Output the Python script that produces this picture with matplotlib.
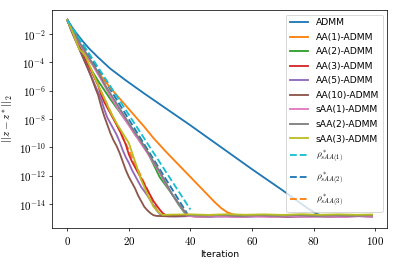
import numpy as np
import matplotlib
matplotlib.use("Agg")
import matplotlib.pyplot as plt
from matplotlib.ticker import FixedLocator, NullLocator, FuncFormatter

plt.rcParams["mathtext.fontset"] = "cm"

# values are log10 ||z - z*||_2
admm_it = [0, 1, 2, 3, 5, 7, 10, 14, 19, 25, 30, 40, 50, 60, 70, 78, 81, 83, 87, 91, 95, 99]
admm_log = [-1.0, -1.35, -1.65, -1.95, -2.5, -3.0, -3.65, -4.45, -5.27, -6.2, -6.95, -8.45,
            -10.0, -11.55, -13.05, -14.3, -14.7, -14.85, -14.8, -14.87, -14.82, -14.85]

aa1_it = [0, 2, 4, 6, 8, 10, 12, 14, 16, 19, 22, 25, 28, 32, 36, 40, 44, 48, 50, 52, 54,
          56, 60, 65, 70, 75, 80, 85, 90, 95, 99]
aa1_log = [-1.0, -2.0, -2.8, -3.5, -4.1, -4.7, -5.25, -5.8, -6.3, -7.05, -7.8, -8.55, -9.35,
           -10.3, -11.2, -12.1, -13.0, -13.9, -14.3, -14.6, -14.75, -14.8, -14.78, -14.84,
           -14.8, -14.86, -14.8, -14.83, -14.79, -14.85, -14.82]

aa2_it = [0, 2, 4, 6, 8, 10, 12, 14, 16, 18, 20, 22, 24, 26, 28, 30, 32, 34, 36, 38, 39,
          42, 46, 50, 55, 60, 65, 70, 75, 80, 85, 90, 95, 99]
aa2_log = [-1.0, -2.0, -2.9, -3.8, -4.6, -5.3, -5.95, -6.6, -7.2, -7.8, -8.4, -9.1, -9.6,
           -10.3, -11.2, -12.1, -12.7, -13.3, -14.0, -14.6, -14.8, -14.85, -14.8, -14.88,
           -14.82, -14.86, -14.8, -14.87, -14.83, -14.86, -14.81, -14.87, -14.83, -14.86]

aa3_it = [0, 2, 4, 6, 8, 10, 11, 12, 14, 16, 17, 18, 19, 20, 21, 22, 23, 24, 25, 26, 27,
          28, 29, 30, 31, 32, 33, 37, 42, 48, 55, 62, 70, 78, 85, 92, 99]
aa3_log = [-1.0, -2.0, -3.0, -3.9, -4.7, -5.6, -6.3, -6.8, -7.6, -8.4, -8.8, -9.3, -9.8,
           -10.5, -11.0, -11.4, -11.8, -12.2, -12.6, -13.0, -13.4, -13.8, -14.1, -14.4,
           -14.65, -14.8, -14.85, -14.82, -14.88, -14.83, -14.87, -14.82, -14.88, -14.84,
           -14.87, -14.82, -14.86]

aa5_it = [0, 2, 4, 6, 8, 10, 11, 12, 13, 14, 15, 16, 17, 18, 19, 20, 21, 22, 23, 24, 25,
          26, 27, 28, 29, 30, 31, 35, 40, 46, 52, 58, 65, 72, 80, 87, 94, 99]
aa5_log = [-1.0, -2.1, -3.1, -4.1, -5.1, -6.1, -6.6, -7.3, -7.9, -8.3, -8.7, -9.1, -9.6,
           -10.2, -10.7, -11.1, -11.6, -12.0, -12.4, -12.8, -13.1, -13.4, -13.75, -14.1,
           -14.45, -14.7, -14.85, -14.9, -14.86, -14.92, -14.87, -14.91, -14.86, -14.92,
           -14.88, -14.91, -14.86, -14.9]

aa10_it = [0, 1, 2, 3, 4, 5, 6, 7, 8, 9, 10, 11, 12, 13, 14, 15, 16, 17, 18, 19, 20, 21,
           22, 23, 24, 25, 26, 27, 28, 29, 33, 38, 44, 50, 57, 64, 71, 78, 85, 92, 99]
aa10_log = [-1.0, -1.6, -2.1, -2.6, -3.1, -3.6, -4.1, -4.6, -5.15, -5.75, -6.3, -7.1, -7.8,
            -8.4, -9.0, -9.5, -9.9, -10.4, -11.0, -11.6, -12.1, -12.5, -12.9, -13.4, -13.8,
            -14.2, -14.45, -14.65, -14.8, -14.85, -14.88, -14.84, -14.9, -14.85, -14.89,
            -14.84, -14.9, -14.86, -14.89, -14.84, -14.88]

saa1_it = [0, 2, 4, 6, 8, 10, 12, 14, 16, 18, 20, 22, 24, 26, 28, 30, 32, 34, 36, 38, 39,
           43, 48, 54, 60, 66, 72, 78, 84, 90, 95, 99]
saa1_log = [-1.0, -1.9, -2.7, -3.4, -4.1, -4.85, -5.6, -6.4, -7.1, -7.8, -8.45, -9.1, -9.75,
            -10.4, -11.1, -11.8, -12.6, -13.3, -13.95, -14.55, -14.85, -14.92, -14.87,
            -14.93, -14.88, -14.93, -14.87, -14.92, -14.88, -14.93, -14.87, -14.91]

saa2_it = [0, 2, 4, 6, 8, 10, 12, 14, 16, 18, 20, 22, 24, 26, 28, 30, 32, 34, 36, 38, 39,
           44, 50, 56, 62, 68, 74, 80, 86, 92, 99]
saa2_log = [-1.0, -1.8, -2.6, -3.3, -4.0, -4.7, -5.5, -6.2, -6.9, -7.6, -8.3, -8.95, -9.6,
            -10.3, -11.0, -11.7, -12.5, -13.3, -13.9, -14.5, -14.8, -14.84, -14.8, -14.86,
            -14.81, -14.85, -14.8, -14.86, -14.82, -14.85, -14.82]

saa3_it = [0, 2, 3, 4, 5, 6, 8, 10, 12, 14, 16, 18, 20, 22, 24, 26, 28, 30, 31, 34, 40,
           46, 52, 58, 64, 70, 76, 82, 88, 94, 99]
saa3_log = [-1.0, -2.0, -2.6, -3.1, -3.3, -3.6, -4.6, -5.6, -6.5, -7.5, -8.3, -9.0, -9.7,
            -11.0, -12.3, -13.3, -14.2, -14.65, -14.78, -14.76, -14.74, -14.78, -14.73,
            -14.77, -14.74, -14.78, -14.73, -14.77, -14.74, -14.77, -14.75]

# straight rate bounds rho*^k (end points)
rho1_it = [0, 40]
rho1_log = [-1.0, -14.4]
rho2_it = [0, 39]
rho2_log = [-1.0, -14.7]
rho3_it = [0, 29.5]
rho3_log = [-1.0, -14.6]

solid = [
    ("ADMM", admm_it, admm_log),
    ("AA(1)-ADMM", aa1_it, aa1_log),
    ("AA(2)-ADMM", aa2_it, aa2_log),
    ("AA(3)-ADMM", aa3_it, aa3_log),
    ("AA(5)-ADMM", aa5_it, aa5_log),
    ("AA(10)-ADMM", aa10_it, aa10_log),
    ("sAA(1)-ADMM", saa1_it, saa1_log),
    ("sAA(2)-ADMM", saa2_it, saa2_log),
    ("sAA(3)-ADMM", saa3_it, saa3_log),
]
dashed = [
    (r"$\rho^*_{sAA(1)}$", rho1_it, rho1_log, "tab:cyan", 2.1),
    (r"$\rho^*_{sAA(2)}$", rho2_it, rho2_log, "tab:blue", 1.9),
    (r"$\rho^*_{sAA(3)}$", rho3_it, rho3_log, "tab:orange", 1.9),
]

fig = plt.figure(figsize=(6.0, 4.02), dpi=66.2)
ax = fig.add_axes([0.131, 0.143, 0.844, 0.819])

for i, (label, it, lg) in enumerate(solid):
    ax.plot(it, 10.0 ** np.array(lg), color="C%d" % i, lw=2, label=label, zorder=2)
for label, it, lg, color, z in dashed:
    ax.plot(it, 10.0 ** np.array(lg), color=color, ls="--", lw=2, label=label, zorder=z)

ax.set_yscale("log")
ax.set_xlim(-4.95, 103.95)
ax.set_ylim(10 ** -15.7, 10 ** -0.3)
ax.yaxis.set_major_locator(FixedLocator([10.0 ** e for e in range(-14, -1, 2)]))
ax.yaxis.set_minor_locator(NullLocator())
ax.yaxis.set_major_formatter(FuncFormatter(lambda v, p: r"$10^{%d}$" % round(np.log10(v))))
ax.xaxis.set_major_formatter(FuncFormatter(lambda v, p: r"$%d$" % v))
ax.tick_params(labelsize=12)

ax.set_xlabel("Iteration", fontsize=10)
ax.set_ylabel(r"$||z-z^*||_2$", fontsize=12)
ax.legend(loc="upper right", fontsize=10, labelspacing=0.6)

fig.savefig("out.png", dpi=66.2)
plt.close(fig)
